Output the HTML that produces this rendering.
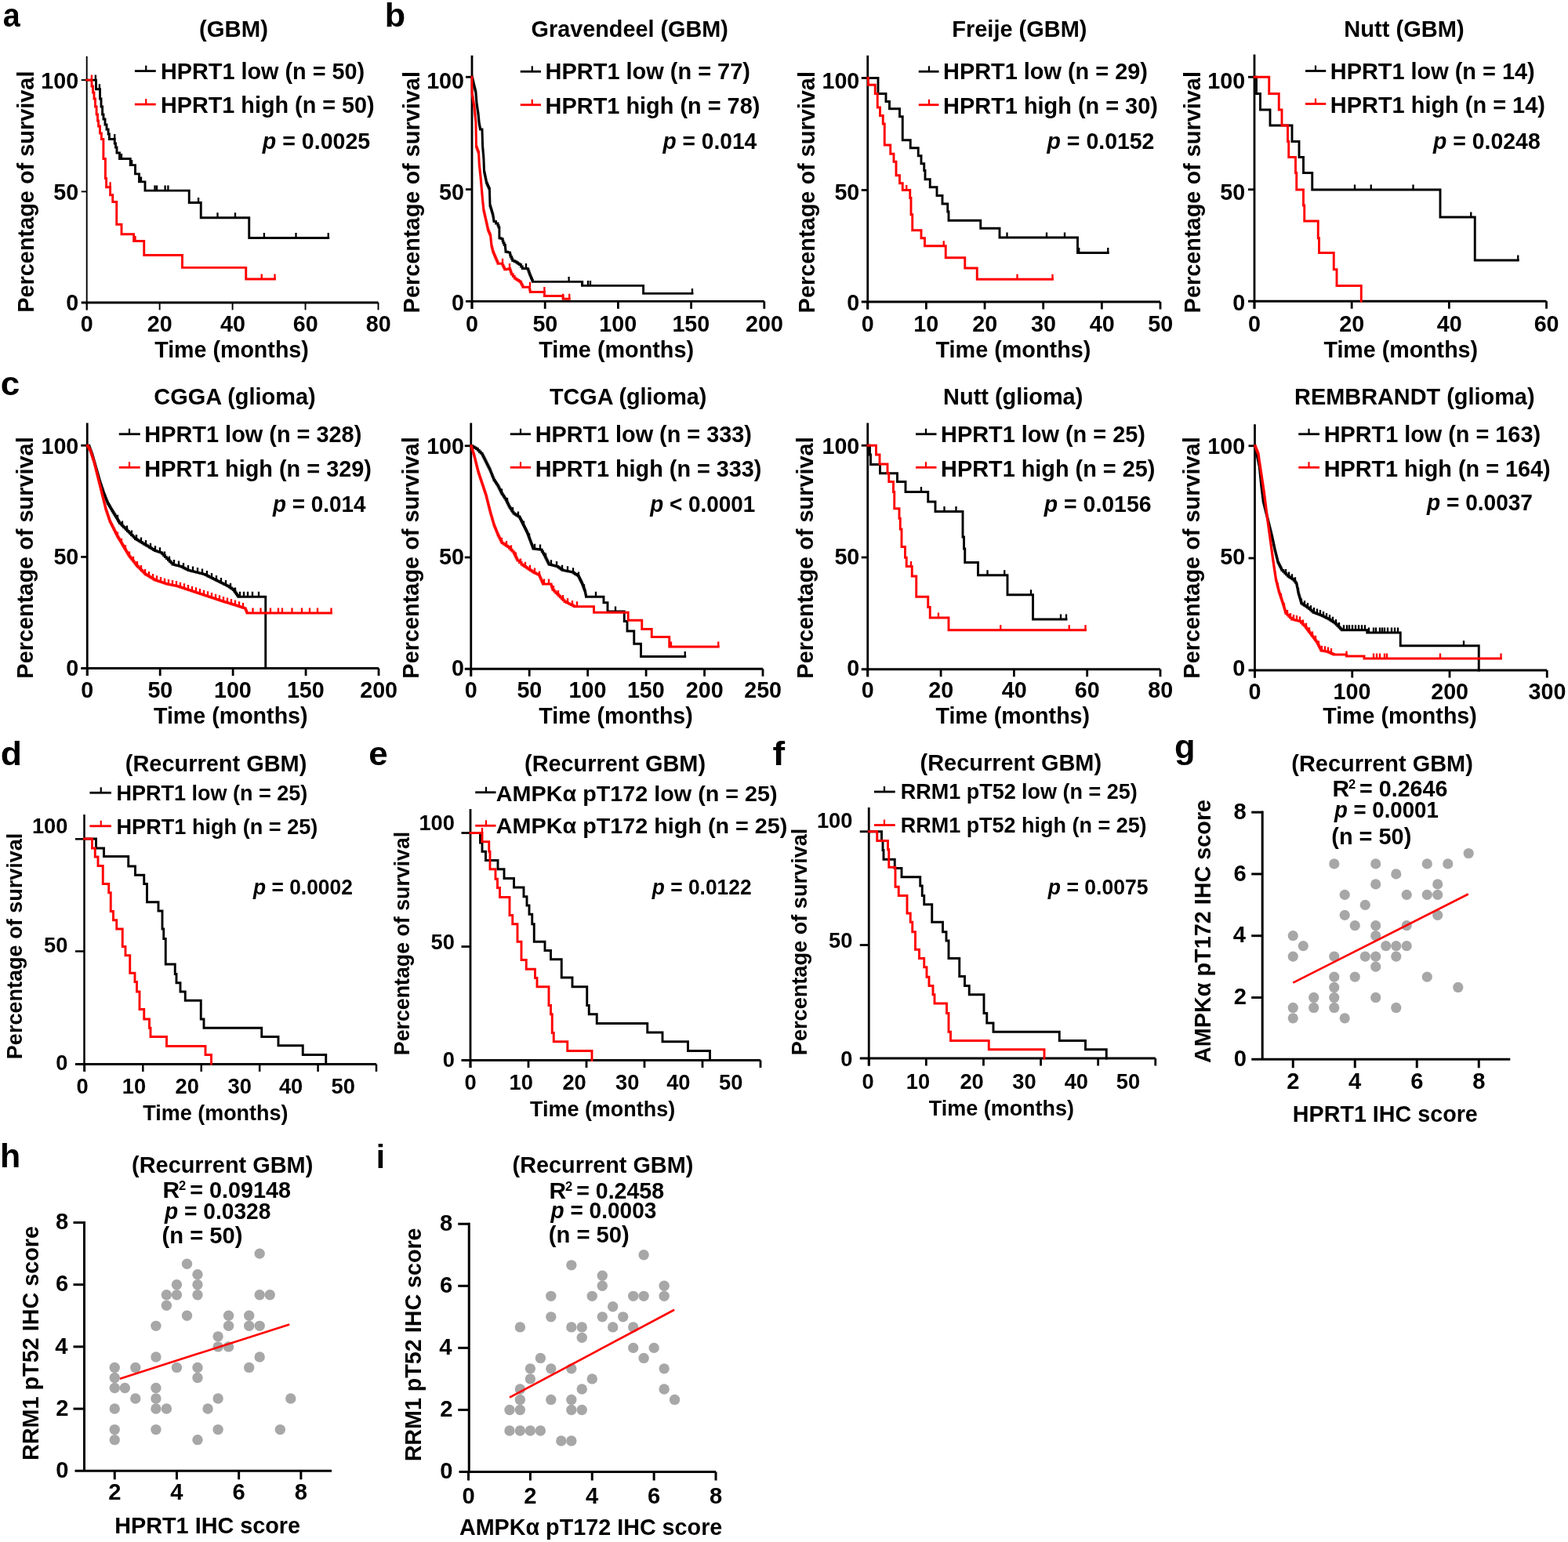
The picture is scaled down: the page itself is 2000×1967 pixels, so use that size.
<!DOCTYPE html>
<html><head><meta charset="utf-8"><title>Figure</title>
<style>
html,body{margin:0;padding:0;background:#fff;}
svg{display:block;}
text{font-family:'Liberation Sans', Arial, Helvetica, sans-serif;font-weight:bold;fill:#000;}
</style></head>
<body>
<svg xmlns="http://www.w3.org/2000/svg" width="2000" height="1967" viewBox="0 0 2000 1967">
<rect width="2000" height="1967" fill="#fff"/>
<text x="3.78" y="33.6" font-size="42.5" textLength="21.94" lengthAdjust="spacingAndGlyphs">a</text>
<line x1="110.7" y1="71.8" x2="110.7" y2="395.4" stroke="#000" stroke-width="1.9"/>
<line x1="103.7" y1="385.9" x2="482.5" y2="385.9" stroke="#000" stroke-width="3"/>
<line x1="103.7" y1="102.1" x2="110.7" y2="102.1" stroke="#000" stroke-width="1.9"/>
<line x1="103.7" y1="244.4" x2="110.7" y2="244.4" stroke="#000" stroke-width="1.9"/>
<line x1="110.7" y1="385.9" x2="110.7" y2="395.4" stroke="#000" stroke-width="1.9"/>
<line x1="203.65" y1="385.9" x2="203.65" y2="395.4" stroke="#000" stroke-width="1.9"/>
<line x1="296.6" y1="385.9" x2="296.6" y2="395.4" stroke="#000" stroke-width="1.9"/>
<line x1="389.55" y1="385.9" x2="389.55" y2="395.4" stroke="#000" stroke-width="1.9"/>
<line x1="482.5" y1="385.9" x2="482.5" y2="395.4" stroke="#000" stroke-width="1.9"/>
<text x="52.36" y="112.9" font-size="28.7">100</text>
<text x="68.29" y="254.6" font-size="28.7">50</text>
<text x="84.22" y="396.2" font-size="28.7">0</text>
<text x="102.74" y="423.2" font-size="28.7">0</text>
<text x="187.79" y="423.2" font-size="28.7">20</text>
<text x="281.03" y="423.2" font-size="28.7">40</text>
<text x="373.69" y="423.2" font-size="28.7">60</text>
<text x="466.72" y="423.2" font-size="28.7">80</text>
<text x="254.03" y="46.8" font-size="30" textLength="87.91" lengthAdjust="spacingAndGlyphs">(GBM)</text>
<text x="197.21" y="455.9" font-size="30" textLength="196.6" lengthAdjust="spacingAndGlyphs">Time (months)</text>
<text x="43.1" y="398.78" font-size="30" textLength="308.2" lengthAdjust="spacingAndGlyphs" transform="rotate(-90 43.1 398.78)">Percentage of survival</text>
<line x1="171.9" y1="90.6" x2="198.75" y2="90.6" stroke="#000" stroke-width="2.8"/>
<line x1="186.25" y1="90.6" x2="186.25" y2="83.6" stroke="#000" stroke-width="2.2"/>
<text x="205.03" y="100.9" font-size="30" textLength="260.15" lengthAdjust="spacingAndGlyphs">HPRT1 low (n = 50)</text>
<line x1="171.9" y1="133.1" x2="198.75" y2="133.1" stroke="#ff0000" stroke-width="2.8"/>
<line x1="186.25" y1="133.1" x2="186.25" y2="126.1" stroke="#ff0000" stroke-width="2.2"/>
<text x="205.03" y="144.4" font-size="30" textLength="272.61" lengthAdjust="spacingAndGlyphs">HPRT1 high (n = 50)</text>
<text x="334.87" y="189.7" font-size="29.5" textLength="137.34" lengthAdjust="spacingAndGlyphs"><tspan font-style="italic">p</tspan> = 0.0025</text>
<path d="M110.7,102.1H122.5V113.8H127.5V126H129V136H130.6V146H132V152H134V159H136V165H138.1V171H139.4V177.5H146.25V183H147.5V188H149V195H152.5V202.5H166.25V210.6H172.5V221.9H177.5V231.9H185V243.1H241.25V258.5H256.25V277.7H317.75V303.5H418.75" fill="none" stroke="#000" stroke-width="2.9" stroke-linejoin="miter" stroke-linecap="square"/>
<path d="M121.9,102.1v-6.5M126.9,113.8v-6.5M146.25,177.5v-6.5M155,202.5v-6.5M168.1,210.6v-6.5M180,231.9v-6.5M197.5,243.1v-6.5M200,243.1v-6.5M210.6,243.1v-6.5M214.4,243.1v-6.5M253.1,258.5v-6.5M277.5,277.7v-6.5M300,277.7v-6.5M336.9,303.5v-6.5M377.5,303.5v-6.5M418.75,303.5v-6.5" fill="none" stroke="#000" stroke-width="2.32"/>
<path d="M110.7,102.1H117V110H118.5V118H120V126H121.5V136H123.1V146H124.5V154H125.6V161H127.5V170H129.4V177.5H131.9V202.5H134.4V227.5H135.6V238.75H140.6V248.75H143.75V257.5H148.75V286.25H155V298.75H170.6V307.5H183.75V325.5H232.5V341.4H313.75V356H350.5" fill="none" stroke="#ff0000" stroke-width="2.9" stroke-linejoin="miter" stroke-linecap="square"/>
<path d="M116.9,102.1v-6.5M140.6,238.75v-6.5M172.5,307.5v-6.5M333.75,356v-6.5M350.5,356v-6.5" fill="none" stroke="#ff0000" stroke-width="2.32"/>
<text x="490.69" y="33.6" font-size="42.5" textLength="26.37" lengthAdjust="spacingAndGlyphs">b</text>
<line x1="602" y1="70.75" x2="602" y2="393.9" stroke="#000" stroke-width="2.8"/>
<line x1="594" y1="384.4" x2="974.8" y2="384.4" stroke="#000" stroke-width="2.9"/>
<line x1="594" y1="98.25" x2="602" y2="98.25" stroke="#000" stroke-width="2.8"/>
<line x1="594" y1="241.6" x2="602" y2="241.6" stroke="#000" stroke-width="2.8"/>
<line x1="602" y1="384.4" x2="602" y2="393.9" stroke="#000" stroke-width="2.8"/>
<line x1="695.2" y1="384.4" x2="695.2" y2="393.9" stroke="#000" stroke-width="2.8"/>
<line x1="788.4" y1="384.4" x2="788.4" y2="393.9" stroke="#000" stroke-width="2.8"/>
<line x1="881.6" y1="384.4" x2="881.6" y2="393.9" stroke="#000" stroke-width="2.8"/>
<line x1="974.8" y1="384.4" x2="974.8" y2="393.9" stroke="#000" stroke-width="2.8"/>
<text x="544.16" y="112.9" font-size="28.7">100</text>
<text x="560.09" y="254.6" font-size="28.7">50</text>
<text x="576.02" y="396.2" font-size="28.7">0</text>
<text x="594.04" y="422.5" font-size="28.7">0</text>
<text x="679.42" y="422.5" font-size="28.7">50</text>
<text x="764.22" y="422.5" font-size="28.7">100</text>
<text x="857.42" y="422.5" font-size="28.7">150</text>
<text x="950.98" y="422.5" font-size="28.7">200</text>
<text x="677.57" y="46.75" font-size="30" textLength="251.32" lengthAdjust="spacingAndGlyphs">Gravendeel (GBM)</text>
<text x="687.19" y="455.9" font-size="30" textLength="197.86" lengthAdjust="spacingAndGlyphs">Time (months)</text>
<text x="535" y="399.38" font-size="30" textLength="308.3" lengthAdjust="spacingAndGlyphs" transform="rotate(-90 535 399.38)">Percentage of survival</text>
<line x1="663.75" y1="91.25" x2="690" y2="91.25" stroke="#000" stroke-width="2.8"/>
<line x1="678.75" y1="91.25" x2="678.75" y2="84.25" stroke="#000" stroke-width="2.2"/>
<text x="695.62" y="101.25" font-size="30" textLength="261.31" lengthAdjust="spacingAndGlyphs">HPRT1 low (n = 77)</text>
<line x1="663.75" y1="133.75" x2="690" y2="133.75" stroke="#ff0000" stroke-width="2.8"/>
<line x1="678.75" y1="133.75" x2="678.75" y2="126.75" stroke="#ff0000" stroke-width="2.2"/>
<text x="695.62" y="144.75" font-size="30" textLength="273.78" lengthAdjust="spacingAndGlyphs">HPRT1 high (n = 78)</text>
<text x="845.56" y="190" font-size="29.5" textLength="119.64" lengthAdjust="spacingAndGlyphs"><tspan font-style="italic">p</tspan> = 0.014</text>
<path d="M602,98.25H602.48V100.35H602.96V102.45H603.44V104.55H603.92V106.65H604.4V108.75H604.9V110.75H605.4V112.75H605.9V114.75H606.4V116.75H606.9V118.75H607.05V120.62H607.2V122.5H607.35V124.38H607.5V126.25H607.65V128.12H607.8V130H607.95V131.88H608.1V133.75H608.42V135.83H608.73V137.92H609.05V140H609.37V142.08H609.68V144.17H610V146.25H610.21V148.33H610.42V150.42H610.62V152.5H610.83V154.58H611.04V156.67H611.25V158.75H611.67V160.83H612.08V162.92H612.5V165H615V167.5H615.06V169.5H615.12V171.5H615.18V173.5H615.24V175.5H615.3V177.5H615.36V179.5H615.42V181.5H615.48V183.5H615.54V185.5H615.6V187.5H615.76V189.38H615.92V191.25H616.09V193.12H616.25V195H616.41V196.88H616.58V198.75H616.74V200.62H616.9V202.5H616.98V204.53H617.05V206.56H617.12V208.59H617.2V210.62H617.27V212.66H617.35V214.69H617.42V216.72H617.5V218.75H617.89V220.62H618.27V222.5H618.66V224.38H619.05V226.25H619.44V228.12H619.83V230H620.21V231.88H620.6V233.75H621.55V235.94H622.5V238.12H623.45V240.31H624.4V242.5H624.46V244.5H624.52V246.5H624.58V248.5H624.64V250.5H624.7V252.5H624.76V254.5H624.82V256.5H624.88V258.5H624.94V260.5H625V262.5H625.62V264.58H626.25V266.67H626.88V268.75H627.5V270.83H628.12V272.92H628.75V275H629.06V276.88H629.38V278.75H629.69V280.62H630V282.5H632.5V285H635V287.5H635.95V290H636.9V292.5H636.9V294.38H636.9V296.25H636.9V298.12H636.9V300H636.9V301.88H636.9V303.75H638.75V304.38H640.6V305H641.25V307.5H641.9V310H643.15V312.5H644.4V315H644.6V317.08H644.8V319.17H645V321.25H647.5V321.88H650V322.5H650.62V325H651.25V327.5H652.5V330H653.75V332.5H656.25V333.75H658.75V335H660.62V336.25H662.5V337.5H664.38V340H666.25V342.5H668.75V342.5H671.25V342.5H673.1V343.75H674.05V346.25H675V348.75H675.83V350.83H676.67V352.92H677.5V355H678.45V357.2H679.4V359.4H742.5V364.4H820.6V374.4H883" fill="none" stroke="#000" stroke-width="2.9" stroke-linejoin="miter" stroke-linecap="square"/>
<path d="M671,342.5v-6.5M725.6,359.4v-6.5M743,364.4v-6.5M750,364.4v-6.5M753,364.4v-6.5M883,374.4v-6.5" fill="none" stroke="#000" stroke-width="2.32"/>
<path d="M602,98.25H602V100.3H602V102.35H602V104.4H602V106.45H602V108.5H602V110.55H602V112.6H602V114.65H602V116.7H602V118.75H602.33V120.83H602.67V122.92H603V125H603.33V127.08H603.67V129.17H604V131.25H604.33V133.33H604.67V135.42H605V137.5H605.21V139.58H605.42V141.67H605.63V143.75H605.84V145.83H606.06V147.92H606.27V150H606.48V152.08H606.69V154.17H606.9V156.25H606.94V158.2H606.98V160.16H607.01V162.11H607.05V164.06H607.09V166.02H607.12V167.97H607.16V169.92H607.2V171.88H607.24V173.83H607.27V175.78H607.31V177.73H607.35V179.69H607.39V181.64H607.42V183.59H607.46V185.55H607.5V187.5H608.27V189.69H609.05V191.88H609.83V194.06H610.6V196.25H610.69V198.21H610.79V200.18H610.88V202.14H610.97V204.11H611.06V206.07H611.16V208.04H611.25V210H611.46V211.94H611.66V213.89H611.87V215.83H612.07V217.78H612.28V219.72H612.48V221.67H612.69V223.61H612.89V225.56H613.1V227.5H613.26V229.38H613.42V231.25H613.59V233.12H613.75V235H613.91V236.88H614.08V238.75H614.24V240.62H614.4V242.5H614.57V244.46H614.74V246.43H614.91V248.39H615.09V250.36H615.26V252.32H615.43V254.29H615.6V256.25H615.82V258.33H616.03V260.42H616.25V262.5H616.47V264.58H616.68V266.67H616.9V268.75H617.36V270.78H617.83V272.81H618.29V274.84H618.75V276.88H619.21V278.91H619.67V280.94H620.14V282.97H620.6V285H621.08V287.19H621.55V289.38H622.02V291.56H622.5V293.75H623.27V295.62H624.05V297.5H624.83V299.38H625.6V301.25H625.82V303.33H626.03V305.42H626.25V307.5H626.47V309.58H626.68V311.67H626.9V313.75H627.36V315.62H627.83V317.5H628.29V319.38H628.75V321.25H629.58V323.33H630.42V325.42H631.25V327.5H632.19V329.69H633.12V331.88H634.06V334.06H635V336.25H637.5V336.25H640V336.25H640.94V338.12H641.88V340H642.81V341.88H643.75V343.75H645.83V343.33H647.92V342.92H650V342.5H650.62V344.38H651.25V346.25H651.88V348.12H652.5V350H654.38V352.5H656.25V355H658.12V356.25H660V357.5H661.88V358.75H663.75V360H664.8V362.08H665.85V364.17H666.9V366.25H668.92V366.25H670.95V366.25H672.98V366.25H675V366.25H675.42V368.33H675.83V370.42H676.25V372.5H694.4V377.5H718.1V381.25H726.25" fill="none" stroke="#ff0000" stroke-width="2.9" stroke-linejoin="miter" stroke-linecap="square"/>
<path d="M641,336.25v-6.5M650,342.5v-6.5M676,366.25v-6.5M694.4,372.5v-6.5M718.1,381.25v-6.5M726.25,381.25v-6.5" fill="none" stroke="#ff0000" stroke-width="2.32"/>
<line x1="1106.75" y1="70.75" x2="1106.75" y2="394.5" stroke="#000" stroke-width="2.8"/>
<line x1="1098.75" y1="385" x2="1480" y2="385" stroke="#000" stroke-width="2.9"/>
<line x1="1098.75" y1="99.5" x2="1106.75" y2="99.5" stroke="#000" stroke-width="2.8"/>
<line x1="1098.75" y1="242.5" x2="1106.75" y2="242.5" stroke="#000" stroke-width="2.8"/>
<line x1="1106.75" y1="385" x2="1106.75" y2="394.5" stroke="#000" stroke-width="2.8"/>
<line x1="1181.4" y1="385" x2="1181.4" y2="394.5" stroke="#000" stroke-width="2.8"/>
<line x1="1256.05" y1="385" x2="1256.05" y2="394.5" stroke="#000" stroke-width="2.8"/>
<line x1="1330.7" y1="385" x2="1330.7" y2="394.5" stroke="#000" stroke-width="2.8"/>
<line x1="1405.35" y1="385" x2="1405.35" y2="394.5" stroke="#000" stroke-width="2.8"/>
<line x1="1480" y1="385" x2="1480" y2="394.5" stroke="#000" stroke-width="2.8"/>
<text x="1048.46" y="112.9" font-size="28.7">100</text>
<text x="1064.39" y="254.6" font-size="28.7">50</text>
<text x="1080.32" y="396.2" font-size="28.7">0</text>
<text x="1098.79" y="422.5" font-size="28.7">0</text>
<text x="1165.18" y="422.5" font-size="28.7">10</text>
<text x="1240.19" y="422.5" font-size="28.7">20</text>
<text x="1314.99" y="422.5" font-size="28.7">30</text>
<text x="1389.78" y="422.5" font-size="28.7">40</text>
<text x="1464.21" y="422.5" font-size="28.7">50</text>
<text x="1214.34" y="46.75" font-size="30" textLength="172.08" lengthAdjust="spacingAndGlyphs">Freije (GBM)</text>
<text x="1193.49" y="455.9" font-size="30" textLength="197.86" lengthAdjust="spacingAndGlyphs">Time (months)</text>
<text x="1038.75" y="399.38" font-size="30" textLength="308.3" lengthAdjust="spacingAndGlyphs" transform="rotate(-90 1038.75 399.38)">Percentage of survival</text>
<line x1="1171.75" y1="91.25" x2="1197.5" y2="91.25" stroke="#000" stroke-width="2.8"/>
<line x1="1185" y1="91.25" x2="1185" y2="84.25" stroke="#000" stroke-width="2.2"/>
<text x="1203.12" y="101.25" font-size="30" textLength="260.81" lengthAdjust="spacingAndGlyphs">HPRT1 low (n = 29)</text>
<line x1="1171.75" y1="133.75" x2="1197.5" y2="133.75" stroke="#ff0000" stroke-width="2.8"/>
<line x1="1185" y1="133.75" x2="1185" y2="126.75" stroke="#ff0000" stroke-width="2.2"/>
<text x="1203.12" y="144.75" font-size="30" textLength="273.78" lengthAdjust="spacingAndGlyphs">HPRT1 high (n = 30)</text>
<text x="1335.57" y="190" font-size="29.5" textLength="136.91" lengthAdjust="spacingAndGlyphs"><tspan font-style="italic">p</tspan> = 0.0152</text>
<path d="M1106.75,99.5H1120V119.5H1130V129.5H1134.5V138.75H1147.5V148.75H1151.25V178.75H1161.25V188.75H1171.25V198.75H1175V208.75H1178.75V217.5H1180V228.75H1186.25V238.75H1195V249.5H1202V260H1208.75V270H1210V281.25H1250.75V291.25H1275V303H1374.5V322.5H1413.25" fill="none" stroke="#000" stroke-width="2.9" stroke-linejoin="miter" stroke-linecap="square"/>
<path d="M1284.5,303v-6.5M1335,303v-6.5M1358,303v-6.5M1376.25,322.5v-6.5M1413.25,322.5v-6.5" fill="none" stroke="#000" stroke-width="2.32"/>
<path d="M1106.75,99.5H1107.5V108.25H1116.25V119.5H1119.25V137H1122.5V147.5H1126.25V158H1128.25V185H1135.75V196.25H1140V206.25H1143V223.75H1147.5V233.75H1151.25V242.5H1160.75V252.5H1162V273.75H1163.75V293.75H1175V303.75H1179.5V313.75H1206.25V328.75H1230.75V342H1246.25V356.25H1342.5" fill="none" stroke="#ff0000" stroke-width="2.9" stroke-linejoin="miter" stroke-linecap="square"/>
<path d="M1156.25,242.5v-6.5M1203.75,313.75v-6.5M1297.5,356.25v-6.5M1342.5,356.25v-6.5" fill="none" stroke="#ff0000" stroke-width="2.32"/>
<line x1="1600" y1="69.5" x2="1600" y2="393.75" stroke="#000" stroke-width="2.8"/>
<line x1="1592" y1="384.25" x2="1972.5" y2="384.25" stroke="#000" stroke-width="2.9"/>
<line x1="1592" y1="98.25" x2="1600" y2="98.25" stroke="#000" stroke-width="2.8"/>
<line x1="1592" y1="241.75" x2="1600" y2="241.75" stroke="#000" stroke-width="2.8"/>
<line x1="1600" y1="384.25" x2="1600" y2="393.75" stroke="#000" stroke-width="2.8"/>
<line x1="1724.17" y1="384.25" x2="1724.17" y2="393.75" stroke="#000" stroke-width="2.8"/>
<line x1="1848.34" y1="384.25" x2="1848.34" y2="393.75" stroke="#000" stroke-width="2.8"/>
<line x1="1972.51" y1="384.25" x2="1972.51" y2="393.75" stroke="#000" stroke-width="2.8"/>
<text x="1540.36" y="112.9" font-size="28.7">100</text>
<text x="1556.29" y="254.6" font-size="28.7">50</text>
<text x="1572.22" y="396.2" font-size="28.7">0</text>
<text x="1592.04" y="422.5" font-size="28.7">0</text>
<text x="1708.31" y="422.5" font-size="28.7">20</text>
<text x="1832.77" y="422.5" font-size="28.7">40</text>
<text x="1956.65" y="422.5" font-size="28.7">60</text>
<text x="1714.36" y="47" font-size="30" textLength="153.23" lengthAdjust="spacingAndGlyphs">Nutt (GBM)</text>
<text x="1688.46" y="455.9" font-size="30" textLength="196.6" lengthAdjust="spacingAndGlyphs">Time (months)</text>
<text x="1531.25" y="399.38" font-size="30" textLength="308.3" lengthAdjust="spacingAndGlyphs" transform="rotate(-90 1531.25 399.38)">Percentage of survival</text>
<line x1="1665" y1="90.5" x2="1691.25" y2="90.5" stroke="#000" stroke-width="2.8"/>
<line x1="1678" y1="90.5" x2="1678" y2="83.5" stroke="#000" stroke-width="2.2"/>
<text x="1696.87" y="100.5" font-size="30" textLength="260.81" lengthAdjust="spacingAndGlyphs">HPRT1 low (n = 14)</text>
<line x1="1665" y1="132.5" x2="1691.25" y2="132.5" stroke="#ff0000" stroke-width="2.8"/>
<line x1="1678" y1="132.5" x2="1678" y2="125.5" stroke="#ff0000" stroke-width="2.2"/>
<text x="1696.87" y="144" font-size="30" textLength="274.03" lengthAdjust="spacingAndGlyphs">HPRT1 high (n = 14)</text>
<text x="1828.07" y="189.5" font-size="29.5" textLength="136.63" lengthAdjust="spacingAndGlyphs"><tspan font-style="italic">p</tspan> = 0.0248</text>
<path d="M1600,98.25H1602.5V119.5H1607.5V140H1620V160H1648V180.5H1657V200.5H1662.5V220.5H1673.75V242H1837V277H1881.25V332H1936.25" fill="none" stroke="#000" stroke-width="2.9" stroke-linejoin="miter" stroke-linecap="square"/>
<path d="M1728,242v-6.5M1748.75,242v-6.5M1802.5,242v-6.5M1876.25,277v-6.5M1936.25,332v-6.5" fill="none" stroke="#000" stroke-width="2.32"/>
<path d="M1600,98.25H1618.75V119.5H1631.25V140H1635V160H1642.5V180.5H1643.75V200.5H1652.5V220.5H1653.75V242H1662.5V262H1663.75V282H1681.25V303.75H1682.5V322.5H1701.25V343.75H1705V364.5H1736.25V384.25" fill="none" stroke="#ff0000" stroke-width="2.9" stroke-linejoin="miter" stroke-linecap="square"/>
<text x="0.74" y="503.6" font-size="42.5" textLength="24.54" lengthAdjust="spacingAndGlyphs">c</text>
<line x1="111.25" y1="539.5" x2="111.25" y2="862" stroke="#000" stroke-width="2.8"/>
<line x1="103.25" y1="852.5" x2="483" y2="852.5" stroke="#000" stroke-width="2.9"/>
<line x1="103.25" y1="568.25" x2="111.25" y2="568.25" stroke="#000" stroke-width="2.8"/>
<line x1="103.25" y1="710.4" x2="111.25" y2="710.4" stroke="#000" stroke-width="2.8"/>
<line x1="111.25" y1="852.5" x2="111.25" y2="862" stroke="#000" stroke-width="2.8"/>
<line x1="204.19" y1="852.5" x2="204.19" y2="862" stroke="#000" stroke-width="2.8"/>
<line x1="297.13" y1="852.5" x2="297.13" y2="862" stroke="#000" stroke-width="2.8"/>
<line x1="390.07" y1="852.5" x2="390.07" y2="862" stroke="#000" stroke-width="2.8"/>
<line x1="483.01" y1="852.5" x2="483.01" y2="862" stroke="#000" stroke-width="2.8"/>
<text x="52.46" y="578.6" font-size="28.7">100</text>
<text x="68.39" y="720.3" font-size="28.7">50</text>
<text x="84.32" y="861.9" font-size="28.7">0</text>
<text x="103.29" y="889.5" font-size="28.7">0</text>
<text x="188.41" y="889.5" font-size="28.7">50</text>
<text x="272.95" y="889.5" font-size="28.7">100</text>
<text x="365.89" y="889.5" font-size="28.7">150</text>
<text x="459.19" y="889.5" font-size="28.7">200</text>
<text x="196.37" y="515.5" font-size="30" textLength="206.34" lengthAdjust="spacingAndGlyphs">CGGA (glioma)</text>
<text x="195.96" y="923.4" font-size="30" textLength="196.6" lengthAdjust="spacingAndGlyphs">Time (months)</text>
<text x="42.5" y="865.63" font-size="30" textLength="308.3" lengthAdjust="spacingAndGlyphs" transform="rotate(-90 42.5 865.63)">Percentage of survival</text>
<line x1="151.75" y1="553.75" x2="178.75" y2="553.75" stroke="#000" stroke-width="2.8"/>
<line x1="165" y1="553.75" x2="165" y2="546.75" stroke="#000" stroke-width="2.2"/>
<text x="184.37" y="564" font-size="30" textLength="276.95" lengthAdjust="spacingAndGlyphs">HPRT1 low (n = 328)</text>
<line x1="151.75" y1="596.25" x2="178.75" y2="596.25" stroke="#ff0000" stroke-width="2.8"/>
<line x1="165" y1="596.25" x2="165" y2="589.25" stroke="#ff0000" stroke-width="2.2"/>
<text x="184.37" y="607.5" font-size="30" textLength="289.56" lengthAdjust="spacingAndGlyphs">HPRT1 high (n = 329)</text>
<text x="348.06" y="652.5" font-size="29.5" textLength="118.39" lengthAdjust="spacingAndGlyphs"><tspan font-style="italic">p</tspan> = 0.014</text>
<path d="M111.25,568.25H113.75V570H114.38V571.67H115V573.33H115.62V575H116.25V576.67H116.88V578.33H117.5V580H118V581.75H118.5V583.5H119V585.25H119.5V587H120V588.75H120.5V590.5H121V592.25H121.5V594H122V595.75H122.5V597.5H123V599.25H123.5V601H124V602.75H124.5V604.5H125V606.25H125.5V608H126V609.75H126.5V611.5H127V613.25H127.5V615H128.12V616.88H128.75V618.75H129.38V620.62H130V622.5H130.62V624.38H131.25V626.25H131.88V628.12H132.5V630H133.21V631.79H133.93V633.57H134.64V635.36H135.36V637.14H136.07V638.93H136.79V640.71H137.5V642.5H138.57V644.29H139.64V646.07H140.71V647.86H141.79V649.64H142.86V651.43H143.93V653.21H145V655H146.07V656.79H147.14V658.57H148.21V660.36H149.29V662.14H150.36V663.93H151.43V665.71H152.5V667.5H154.17V669.17H155.83V670.83H157.5V672.5H159.17V674.17H160.83V675.83H162.5V677.5H164.17V679.17H165.83V680.83H167.5V682.5H169.17V684.17H170.83V685.83H172.5V687.5H174.29V688.57H176.07V689.64H177.86V690.71H179.64V691.79H181.43V692.86H183.21V693.93H185V695H186.79V696.07H188.57V697.14H190.36V698.21H192.14V699.29H193.93V700.36H195.71V701.43H197.5V702.5H199.38V703.12H201.25V703.75H203.12V704.38H205V705H206.88V706.88H208.75V708.75H210.62V710.62H212.5V712.5H214.38V714.38H216.25V716.25H218.12V718.12H220V720H221.67V720.42H223.33V720.83H225V721.25H226.67V721.67H228.33V722.08H230V722.5H231.67V723.33H233.33V724.17H235V725H236.67V725.83H238.33V726.67H240V727.5H241.67V727.92H243.33V728.33H245V728.75H246.67V729.17H248.33V729.58H250V730H251.67V730.42H253.33V730.83H255V731.25H256.67V731.67H258.33V732.08H260V732.5H261.67V733.33H263.33V734.17H265V735H266.67V735.83H268.33V736.67H270V737.5H271.67V738.33H273.33V739.17H275V740H276.67V740.83H278.33V741.67H280V742.5H281.67V743.33H283.33V744.17H285V745H286.67V745.83H288.33V746.67H290V747.5H291.88V748.75H293.75V750H295.62V751.25H297.5V752.5H298.75V754.25H300V756H301.25V757.75H302.5V759.5H303.75V761.25H338.75V852.5" fill="none" stroke="#000" stroke-width="2.9" stroke-linejoin="miter" stroke-linecap="square"/>
<path d="M150,663.33v-6.5M156,671v-6.5M162,677v-6.5M168,683v-6.5M174,688.4v-6.5M180,692v-6.5M186,695.6v-6.5M192,699.2v-6.5M198,702.67v-6.5M204,704.67v-6.5M210,710v-6.5M216,716v-6.5M222,720.5v-6.5M228,722v-6.5M234,724.5v-6.5M240,727.5v-6.5M246,729v-6.5M252,730.5v-6.5M258,732v-6.5M264,734.5v-6.5M270,737.5v-6.5M276,740.5v-6.5M282,743.5v-6.5M288,746.5v-6.5M294,750.17v-6.5M300,756v-6.5M306,761.25v-6.5M311,761.25v-6.5M316,761.25v-6.5M322,761.25v-6.5M330,761.25v-6.5" fill="none" stroke="#000" stroke-width="2.32"/>
<path d="M111.25,568.25H112.19V569.94H113.12V571.62H114.06V573.31H115V575H115.62V576.88H116.25V578.75H116.88V580.62H117.5V582.5H118.12V584.38H118.75V586.25H119.38V588.12H120V590H120.45V591.82H120.91V593.64H121.36V595.45H121.82V597.27H122.27V599.09H122.73V600.91H123.18V602.73H123.64V604.55H124.09V606.36H124.55V608.18H125V610H125.45V611.82H125.91V613.64H126.36V615.45H126.82V617.27H127.27V619.09H127.73V620.91H128.18V622.73H128.64V624.55H129.09V626.36H129.55V628.18H130V630H130.45V631.82H130.91V633.64H131.36V635.45H131.82V637.27H132.27V639.09H132.73V640.91H133.18V642.73H133.64V644.55H134.09V646.36H134.55V648.18H135V650H135.62V651.88H136.25V653.75H136.88V655.62H137.5V657.5H138.12V659.38H138.75V661.25H139.38V663.12H140V665H140.83V666.67H141.67V668.33H142.5V670H143.33V671.67H144.17V673.33H145V675H145.83V676.67H146.67V678.33H147.5V680H148.33V681.67H149.17V683.33H150V685H151.07V686.79H152.14V688.57H153.21V690.36H154.29V692.14H155.36V693.93H156.43V695.71H157.5V697.5H158.57V699.29H159.64V701.07H160.71V702.86H161.79V704.64H162.86V706.43H163.93V708.21H165V710H166.43V711.79H167.86V713.57H169.29V715.36H170.71V717.14H172.14V718.93H173.57V720.71H175V722.5H176.67V724.17H178.33V725.83H180V727.5H181.67V729.17H183.33V730.83H185V732.5H186.79V733.57H188.57V734.64H190.36V735.71H192.14V736.79H193.93V737.86H195.71V738.93H197.5V740H199.38V740.62H201.25V741.25H203.12V741.88H205V742.5H206.88V743.12H208.75V743.75H210.62V744.38H212.5V745H214.29V745.36H216.07V745.71H217.86V746.07H219.64V746.43H221.43V746.79H223.21V747.14H225V747.5H226.88V748.12H228.75V748.75H230.62V749.38H232.5V750H234.38V750.62H236.25V751.25H238.12V751.88H240V752.5H241.88V753.12H243.75V753.75H245.62V754.38H247.5V755H249.38V755.62H251.25V756.25H253.12V756.88H255V757.5H256.88V758.12H258.75V758.75H260.62V759.38H262.5V760H264.38V760.62H266.25V761.25H268.12V761.88H270V762.5H271.88V763.12H273.75V763.75H275.62V764.38H277.5V765H279.38V765.62H281.25V766.25H283.12V766.88H285V767.5H286.79V768.04H288.57V768.57H290.36V769.11H292.14V769.64H293.93V770.18H295.71V770.71H297.5V771.25H299.38V771.88H301.25V772.5H303.12V773.12H305V773.75H306.88V774.38H308.75V775H310.62V775.62H312.5V776.25H313.33V778.17H314.17V780.08H315V782H422.5" fill="none" stroke="#ff0000" stroke-width="2.9" stroke-linejoin="miter" stroke-linecap="square"/>
<path d="M150,685v-6.5M155,693.33v-6.5M160,701.67v-6.5M165,710v-6.5M170,716.25v-6.5M175,722.5v-6.5M180,727.5v-6.5M185,732.5v-6.5M190,735.5v-6.5M195,738.5v-6.5M200,740.83v-6.5M205,742.5v-6.5M210,744.17v-6.5M215,745.5v-6.5M220,746.5v-6.5M225,747.5v-6.5M230,749.17v-6.5M235,750.83v-6.5M240,752.5v-6.5M245,754.17v-6.5M250,755.83v-6.5M255,757.5v-6.5M260,759.17v-6.5M265,760.83v-6.5M270,762.5v-6.5M275,764.17v-6.5M280,765.83v-6.5M285,767.5v-6.5M290,769v-6.5M295,770.5v-6.5M300,772.08v-6.5M305,773.75v-6.5M310,775.42v-6.5M322.5,782v-6.5M332.5,782v-6.5M345,782v-6.5M355,782v-6.5M360,782v-6.5M372.5,782v-6.5M385,782v-6.5M395,782v-6.5M405,782v-6.5M422.5,782v-6.5" fill="none" stroke="#ff0000" stroke-width="2.32"/>
<line x1="600.75" y1="539.5" x2="600.75" y2="862.75" stroke="#000" stroke-width="2.8"/>
<line x1="592.75" y1="853.25" x2="973" y2="853.25" stroke="#000" stroke-width="2.9"/>
<line x1="592.75" y1="568.75" x2="600.75" y2="568.75" stroke="#000" stroke-width="2.8"/>
<line x1="592.75" y1="711" x2="600.75" y2="711" stroke="#000" stroke-width="2.8"/>
<line x1="600.75" y1="853.25" x2="600.75" y2="862.75" stroke="#000" stroke-width="2.8"/>
<line x1="675.2" y1="853.25" x2="675.2" y2="862.75" stroke="#000" stroke-width="2.8"/>
<line x1="749.65" y1="853.25" x2="749.65" y2="862.75" stroke="#000" stroke-width="2.8"/>
<line x1="824.1" y1="853.25" x2="824.1" y2="862.75" stroke="#000" stroke-width="2.8"/>
<line x1="898.55" y1="853.25" x2="898.55" y2="862.75" stroke="#000" stroke-width="2.8"/>
<line x1="973" y1="853.25" x2="973" y2="862.75" stroke="#000" stroke-width="2.8"/>
<text x="544.16" y="578.6" font-size="28.7">100</text>
<text x="560.09" y="720.3" font-size="28.7">50</text>
<text x="576.02" y="861.9" font-size="28.7">0</text>
<text x="592.79" y="890" font-size="28.7">0</text>
<text x="659.42" y="890" font-size="28.7">50</text>
<text x="725.47" y="890" font-size="28.7">100</text>
<text x="799.92" y="890" font-size="28.7">150</text>
<text x="874.73" y="890" font-size="28.7">200</text>
<text x="949.18" y="890" font-size="28.7">250</text>
<text x="700.94" y="515.5" font-size="30" textLength="200.41" lengthAdjust="spacingAndGlyphs">TCGA (glioma)</text>
<text x="687.21" y="923.4" font-size="30" textLength="196.6" lengthAdjust="spacingAndGlyphs">Time (months)</text>
<text x="534.5" y="865.63" font-size="30" textLength="308.3" lengthAdjust="spacingAndGlyphs" transform="rotate(-90 534.5 865.63)">Percentage of survival</text>
<line x1="650.75" y1="553.75" x2="677" y2="553.75" stroke="#000" stroke-width="2.8"/>
<line x1="664" y1="553.75" x2="664" y2="546.75" stroke="#000" stroke-width="2.2"/>
<text x="682.63" y="564" font-size="30" textLength="276.19" lengthAdjust="spacingAndGlyphs">HPRT1 low (n = 333)</text>
<line x1="650.75" y1="596.25" x2="677" y2="596.25" stroke="#ff0000" stroke-width="2.8"/>
<line x1="664" y1="596.25" x2="664" y2="589.25" stroke="#ff0000" stroke-width="2.2"/>
<text x="682.63" y="607.5" font-size="30" textLength="288.8" lengthAdjust="spacingAndGlyphs">HPRT1 high (n = 333)</text>
<text x="829.31" y="652.5" font-size="29.5" textLength="133.98" lengthAdjust="spacingAndGlyphs"><tspan font-style="italic">p</tspan> < 0.0001</text>
<path d="M600.75,568.75H603V570H605.25V571.25H607.5V572.5H609.38V574.38H611.25V576.25H613.12V578.12H615V580H616V582H617V584H618V586H619V588H620V590H621V592H622V594H623V596H624V598H625V600H625.83V602.08H626.67V604.17H627.5V606.25H628.33V608.33H629.17V610.42H630V612.5H631.25V614.38H632.5V616.25H633.75V618.12H635V620H636V622H637V624H638V626H639V628H640V630H641.25V631.88H642.5V633.75H643.75V635.62H645V637.5H646V639.5H647V641.5H648V643.5H649V645.5H650V647.5H651.25V649.38H652.5V651.25H653.75V653.12H655V655H656.88V656.25H658.75V657.5H660.62V658.75H662.5V660H663.5V662H664.5V664H665.5V666H666.5V668H667.5V670H668.5V672H669.5V674H670.5V676H671.5V678H672.5V680H673.25V682H674V684H674.75V686H675.5V688H676.25V690H677V692H677.75V694H678.5V696H679.25V698H680V700H682V700.25H684V700.5H686V700.75H688V701H690V701.25H691.25V703.44H692.5V705.62H693.75V707.81H695V710H696V712H697V714H698V716H699V718H700V720H702V720.5H704V721H706V721.5H708V722H710V722.5H711.88V723.75H713.75V725H715.62V726.25H717.5V727.5H719.58V727.92H721.67V728.33H723.75V728.75H725.83V729.17H727.92V729.58H730V730H731.88V731.25H733.75V732.5H735.62V733.75H737.5V735H738.5V737H739.5V739H740.5V741H741.5V743H742.5V745H743.25V747H744V749H744.75V751H745.5V753H746.25V755H746.67V757.08H747.08V759.17H747.5V761.25H770V768.75H775V780H796.25V792.5H800V805H808.75V821.25H817.5V837.5H873.75" fill="none" stroke="#000" stroke-width="2.9" stroke-linejoin="miter" stroke-linecap="square"/>
<path d="M640,630v-6.5M647,641.5v-6.5M654,653.5v-6.5M661,659v-6.5M668,671v-6.5M675,686.67v-6.5M682,700.25v-6.5M689,701.12v-6.5M696,712v-6.5M703,720.75v-6.5M710,722.5v-6.5M717,727.17v-6.5M724,728.8v-6.5M731,730.67v-6.5M738,736v-6.5M745,751.67v-6.5M760,761.25v-6.5M785,780v-6.5M873.75,837.5v-6.5" fill="none" stroke="#000" stroke-width="2.32"/>
<path d="M600.75,568.75H601.36V570.71H601.96V572.68H602.57V574.64H603.18V576.61H603.79V578.57H604.39V580.54H605V582.5H605.5V584.5H606V586.5H606.5V588.5H607V590.5H607.5V592.5H608V594.5H608.5V596.5H609V598.5H609.5V600.5H610V602.5H610.62V604.38H611.25V606.25H611.88V608.12H612.5V610H613.12V611.88H613.75V613.75H614.38V615.62H615V617.5H615.62V619.38H616.25V621.25H616.88V623.12H617.5V625H618.12V626.88H618.75V628.75H619.38V630.62H620V632.5H620.5V634.5H621V636.5H621.5V638.5H622V640.5H622.5V642.5H623V644.5H623.5V646.5H624V648.5H624.5V650.5H625V652.5H625.56V654.44H626.11V656.39H626.67V658.33H627.22V660.28H627.78V662.22H628.33V664.17H628.89V666.11H629.44V668.06H630V670H630.83V672.08H631.67V674.17H632.5V676.25H633.33V678.33H634.17V680.42H635V682.5H636V684.5H637V686.5H638V688.5H639V690.5H640V692.5H641.88V693.75H643.75V695H645.62V696.25H647.5V697.5H649.38V699.38H651.25V701.25H653.12V703.12H655V705H656V707H657V709H658V711H659V713H660V715H662.5V717.5H665V720H666.88V721.25H668.75V722.5H670.62V723.75H672.5V725H674.38V726.25H676.25V727.5H678.12V728.75H680V730H681.88V730.94H683.75V731.88H685.62V732.81H687.5V733.75H688.33V735.62H689.17V737.5H690V739.38H690.83V741.25H691.67V743.12H692.5V745H694.5V745H696.5V745H698.5V745H700.5V745H702.5V745H703.12V746.88H703.75V748.75H704.38V750.62H705V752.5H706.88V754.38H708.75V756.25H710.62V758.12H712.5V760H714.38V761.88H716.25V763.75H718.12V765.62H720V767.5H722.08V768.54H724.17V769.58H726.25V770.62H728.33V771.67H730.42V772.71H732.5V773.75H757.5V781.25H801.25V791.25H818.75V802.5H831.25V812.5H853.75V825H916.25" fill="none" stroke="#ff0000" stroke-width="2.9" stroke-linejoin="miter" stroke-linecap="square"/>
<path d="M640,692.5v-6.5M646,696.5v-6.5M652,702v-6.5M658,711v-6.5M664,719v-6.5M670,723.33v-6.5M676,727.33v-6.5M682,731v-6.5M688,734.88v-6.5M694,745v-6.5M700,745v-6.5M706,753.5v-6.5M712,759.5v-6.5M718,765.5v-6.5M724,769.5v-6.5M730,772.5v-6.5M736,773.75v-6.5M856,825v-6.5M916.25,825v-6.5" fill="none" stroke="#ff0000" stroke-width="2.32"/>
<line x1="1106.75" y1="539.5" x2="1106.75" y2="863.25" stroke="#000" stroke-width="2.8"/>
<line x1="1098.75" y1="853.75" x2="1480" y2="853.75" stroke="#000" stroke-width="2.9"/>
<line x1="1098.75" y1="568.25" x2="1106.75" y2="568.25" stroke="#000" stroke-width="2.8"/>
<line x1="1098.75" y1="711" x2="1106.75" y2="711" stroke="#000" stroke-width="2.8"/>
<line x1="1106.75" y1="853.75" x2="1106.75" y2="863.25" stroke="#000" stroke-width="2.8"/>
<line x1="1200.06" y1="853.75" x2="1200.06" y2="863.25" stroke="#000" stroke-width="2.8"/>
<line x1="1293.37" y1="853.75" x2="1293.37" y2="863.25" stroke="#000" stroke-width="2.8"/>
<line x1="1386.68" y1="853.75" x2="1386.68" y2="863.25" stroke="#000" stroke-width="2.8"/>
<line x1="1479.99" y1="853.75" x2="1479.99" y2="863.25" stroke="#000" stroke-width="2.8"/>
<text x="1048.46" y="578.6" font-size="28.7">100</text>
<text x="1064.39" y="720.3" font-size="28.7">50</text>
<text x="1080.32" y="861.9" font-size="28.7">0</text>
<text x="1098.79" y="890" font-size="28.7">0</text>
<text x="1184.2" y="890" font-size="28.7">20</text>
<text x="1277.8" y="890" font-size="28.7">40</text>
<text x="1370.82" y="890" font-size="28.7">60</text>
<text x="1464.2" y="890" font-size="28.7">80</text>
<text x="1203.12" y="515.5" font-size="30" textLength="178.2" lengthAdjust="spacingAndGlyphs">Nutt (glioma)</text>
<text x="1193.46" y="923.4" font-size="30" textLength="196.6" lengthAdjust="spacingAndGlyphs">Time (months)</text>
<text x="1037.5" y="865.63" font-size="30" textLength="308.3" lengthAdjust="spacingAndGlyphs" transform="rotate(-90 1037.5 865.63)">Percentage of survival</text>
<line x1="1168" y1="553.75" x2="1194.5" y2="553.75" stroke="#000" stroke-width="2.8"/>
<line x1="1181" y1="553.75" x2="1181" y2="546.75" stroke="#000" stroke-width="2.2"/>
<text x="1200.12" y="564" font-size="30" textLength="260.81" lengthAdjust="spacingAndGlyphs">HPRT1 low (n = 25)</text>
<line x1="1168" y1="596.25" x2="1194.5" y2="596.25" stroke="#ff0000" stroke-width="2.8"/>
<line x1="1181" y1="596.25" x2="1181" y2="589.25" stroke="#ff0000" stroke-width="2.2"/>
<text x="1200.12" y="607.5" font-size="30" textLength="273.27" lengthAdjust="spacingAndGlyphs">HPRT1 high (n = 25)</text>
<text x="1331.82" y="652.5" font-size="29.5" textLength="136.77" lengthAdjust="spacingAndGlyphs"><tspan font-style="italic">p</tspan> = 0.0156</text>
<path d="M1106.75,568.25H1109.5V580H1110.5V592.5H1122.5V603.75H1144.5V614.5H1155V627.5H1183.75V640H1193V652.5H1228V685H1229.5V700H1230.75V717.5H1247.5V733.75H1285V758.75H1317.5V790H1360" fill="none" stroke="#000" stroke-width="2.9" stroke-linejoin="miter" stroke-linecap="square"/>
<path d="M1175,627.5v-6.5M1204.5,652.5v-6.5M1219.5,652.5v-6.5M1259.5,733.75v-6.5M1281.25,733.75v-6.5M1315,758.75v-6.5M1353,790v-6.5M1360,790v-6.5" fill="none" stroke="#000" stroke-width="2.32"/>
<path d="M1106.75,568.25H1117.5V580H1122V592H1132V603.75H1133.75V614.5H1139.5V627.5H1140.75V648.75H1147V661.25H1148.25V675H1150V697.5H1154.5V711.25H1156.25V722.5H1163.25V735H1168.75V761.25H1183.75V774.5H1186.25V788H1210V803.75H1384.5" fill="none" stroke="#ff0000" stroke-width="2.9" stroke-linejoin="miter" stroke-linecap="square"/>
<path d="M1162,722.5v-6.5M1197,788v-6.5M1276.25,803.75v-6.5M1363.75,803.75v-6.5M1384.5,803.75v-6.5" fill="none" stroke="#ff0000" stroke-width="2.32"/>
<line x1="1600.5" y1="541.25" x2="1600.5" y2="864.5" stroke="#000" stroke-width="2.8"/>
<line x1="1592.5" y1="855" x2="1973.25" y2="855" stroke="#000" stroke-width="2.9"/>
<line x1="1592.5" y1="568.75" x2="1600.5" y2="568.75" stroke="#000" stroke-width="2.8"/>
<line x1="1592.5" y1="712" x2="1600.5" y2="712" stroke="#000" stroke-width="2.8"/>
<line x1="1600.5" y1="855" x2="1600.5" y2="864.5" stroke="#000" stroke-width="2.8"/>
<line x1="1724.75" y1="855" x2="1724.75" y2="864.5" stroke="#000" stroke-width="2.8"/>
<line x1="1849" y1="855" x2="1849" y2="864.5" stroke="#000" stroke-width="2.8"/>
<line x1="1973.25" y1="855" x2="1973.25" y2="864.5" stroke="#000" stroke-width="2.8"/>
<text x="1540.36" y="578.6" font-size="28.7">100</text>
<text x="1556.29" y="720.3" font-size="28.7">50</text>
<text x="1572.22" y="861.9" font-size="28.7">0</text>
<text x="1592.54" y="891.5" font-size="28.7">0</text>
<text x="1700.57" y="891.5" font-size="28.7">100</text>
<text x="1825.18" y="891.5" font-size="28.7">200</text>
<text x="1949.57" y="891.5" font-size="28.7">300</text>
<text x="1651.1" y="516" font-size="30" textLength="306.44" lengthAdjust="spacingAndGlyphs">REMBRANDT (glioma)</text>
<text x="1687.21" y="923.4" font-size="30" textLength="196.6" lengthAdjust="spacingAndGlyphs">Time (months)</text>
<text x="1530" y="865.63" font-size="30" textLength="308.3" lengthAdjust="spacingAndGlyphs" transform="rotate(-90 1530 865.63)">Percentage of survival</text>
<line x1="1656.25" y1="553.75" x2="1683" y2="553.75" stroke="#000" stroke-width="2.8"/>
<line x1="1669.5" y1="553.75" x2="1669.5" y2="546.75" stroke="#000" stroke-width="2.2"/>
<text x="1688.63" y="564" font-size="30" textLength="276.44" lengthAdjust="spacingAndGlyphs">HPRT1 low (n = 163)</text>
<line x1="1656.25" y1="596.25" x2="1683" y2="596.25" stroke="#ff0000" stroke-width="2.8"/>
<line x1="1669.5" y1="596.25" x2="1669.5" y2="589.25" stroke="#ff0000" stroke-width="2.2"/>
<text x="1688.63" y="607.5" font-size="30" textLength="289.05" lengthAdjust="spacingAndGlyphs">HPRT1 high (n = 164)</text>
<text x="1820.06" y="650.5" font-size="29.5" textLength="134.9" lengthAdjust="spacingAndGlyphs"><tspan font-style="italic">p</tspan> = 0.0037</text>
<path d="M1600.5,568.75H1600.9V570.5H1601.3V572.25H1601.7V574H1602.1V575.75H1602.5V577.5H1602.88V579.25H1603.25V581H1603.62V582.75H1604V584.5H1604.38V586.25H1604.75V588H1605.12V589.75H1605.5V591.5H1605.88V593.25H1606.25V595H1606.43V596.79H1606.61V598.57H1606.79V600.36H1606.96V602.14H1607.14V603.93H1607.32V605.71H1607.5V607.5H1607.68V609.29H1607.86V611.07H1608.04V612.86H1608.21V614.64H1608.39V616.43H1608.57V618.21H1608.75V620H1608.98V621.82H1609.2V623.64H1609.43V625.45H1609.66V627.27H1609.89V629.09H1610.11V630.91H1610.34V632.73H1610.57V634.55H1610.8V636.36H1611.02V638.18H1611.25V640H1611.72V641.88H1612.19V643.75H1612.66V645.62H1613.12V647.5H1613.59V649.38H1614.06V651.25H1614.53V653.12H1615V655H1615.47V656.88H1615.94V658.75H1616.41V660.62H1616.88V662.5H1617.34V664.38H1617.81V666.25H1618.28V668.12H1618.75V670H1619.22V671.88H1619.69V673.75H1620.16V675.62H1620.62V677.5H1621.09V679.38H1621.56V681.25H1622.03V683.12H1622.5V685H1622.88V686.75H1623.25V688.5H1623.62V690.25H1624V692H1624.38V693.75H1624.75V695.5H1625.12V697.25H1625.5V699H1625.88V700.75H1626.25V702.5H1626.72V704.38H1627.19V706.25H1627.66V708.12H1628.12V710H1628.59V711.88H1629.06V713.75H1629.53V715.62H1630V717.5H1630.83V719.17H1631.67V720.83H1632.5V722.5H1633.33V724.17H1634.17V725.83H1635V727.5H1636.88V729.38H1638.75V731.25H1640.62V733.12H1642.5V735H1644.38V736.25H1646.25V737.5H1648.12V738.75H1650V740H1651.25V741.67H1652.5V743.33H1653.75V745H1654.11V746.79H1654.46V748.57H1654.82V750.36H1655.18V752.14H1655.54V753.93H1655.89V755.71H1656.25V757.5H1656.79V759.29H1657.32V761.07H1657.86V762.86H1658.39V764.64H1658.93V766.43H1659.46V768.21H1660V770H1661.88V771.25H1663.75V772.5H1665.62V773.75H1667.5V775H1669.38V776.56H1671.25V778.12H1673.12V779.69H1675V781.25H1676.67V781.88H1678.33V782.5H1680V783.12H1681.67V783.75H1683.33V784.38H1685V785H1686.67V785.83H1688.33V786.67H1690V787.5H1691.67V788.33H1693.33V789.17H1695V790H1696.88V791.25H1698.75V792.5H1700.62V793.75H1702.5V795H1704.25V796.75H1706V798.5H1707.75V800.25H1709.5V802H1711.25V803.75H1743.75V807H1786.25V823.75H1886.25V855" fill="none" stroke="#000" stroke-width="2.9" stroke-linejoin="miter" stroke-linecap="square"/>
<path d="M1640,732.5v-6.5M1644,736v-6.5M1648,738.67v-6.5M1652,742.67v-6.5M1656,756.25v-6.5M1660,770v-6.5M1664,772.67v-6.5M1668,775.42v-6.5M1672,778.75v-6.5M1676,781.62v-6.5M1680,783.12v-6.5M1684,784.62v-6.5M1688,786.5v-6.5M1692,788.5v-6.5M1696,790.67v-6.5M1700,793.33v-6.5M1704,796.5v-6.5M1708,800.5v-6.5M1714,803.75v-6.5M1718,803.75v-6.5M1721,803.75v-6.5M1725,803.75v-6.5M1729,803.75v-6.5M1733,803.75v-6.5M1737,803.75v-6.5M1741,803.75v-6.5M1746,807v-6.5M1752,807v-6.5M1755,807v-6.5M1760,807v-6.5M1763,807v-6.5M1766,807v-6.5M1770,807v-6.5M1775,807v-6.5M1779,807v-6.5M1783,807v-6.5M1867,823.75v-6.5" fill="none" stroke="#000" stroke-width="2.32"/>
<path d="M1600.5,568.75H1601.25V570.62H1602V572.5H1602.75V574.38H1603.5V576.25H1604.25V578.12H1605V580H1605.27V581.79H1605.54V583.57H1605.8V585.36H1606.07V587.14H1606.34V588.93H1606.61V590.71H1606.88V592.5H1607.14V594.29H1607.41V596.07H1607.68V597.86H1607.95V599.64H1608.21V601.43H1608.48V603.21H1608.75V605H1609.02V606.79H1609.29V608.57H1609.55V610.36H1609.82V612.14H1610.09V613.93H1610.36V615.71H1610.62V617.5H1610.89V619.29H1611.16V621.07H1611.43V622.86H1611.7V624.64H1611.96V626.43H1612.23V628.21H1612.5V630H1612.72V631.76H1612.94V633.53H1613.16V635.29H1613.38V637.06H1613.6V638.82H1613.82V640.59H1614.04V642.35H1614.26V644.12H1614.49V645.88H1614.71V647.65H1614.93V649.41H1615.15V651.18H1615.37V652.94H1615.59V654.71H1615.81V656.47H1616.03V658.24H1616.25V660H1616.5V661.83H1616.75V663.67H1617V665.5H1617.25V667.33H1617.5V669.17H1617.75V671H1618V672.83H1618.25V674.67H1618.5V676.5H1618.75V678.33H1619V680.17H1619.25V682H1619.5V683.83H1619.75V685.67H1620V687.5H1620.25V689.33H1620.5V691.17H1620.75V693H1621V694.83H1621.25V696.67H1621.5V698.5H1621.75V700.33H1622V702.17H1622.25V704H1622.5V705.83H1622.75V707.67H1623V709.5H1623.25V711.33H1623.5V713.17H1623.75V715H1624.02V716.79H1624.29V718.57H1624.55V720.36H1624.82V722.14H1625.09V723.93H1625.36V725.71H1625.62V727.5H1625.89V729.29H1626.16V731.07H1626.43V732.86H1626.7V734.64H1626.96V736.43H1627.23V738.21H1627.5V740H1627.97V741.88H1628.44V743.75H1628.91V745.62H1629.38V747.5H1629.84V749.38H1630.31V751.25H1630.78V753.12H1631.25V755H1631.88V756.88H1632.5V758.75H1633.12V760.62H1633.75V762.5H1634.38V764.38H1635V766.25H1635.62V768.12H1636.25V770H1636.79V771.79H1637.32V773.57H1637.86V775.36H1638.39V777.14H1638.93V778.93H1639.46V780.71H1640V782.5H1641.88V784.38H1643.75V786.25H1645.62V788.12H1647.5V790H1649.17V790.42H1650.83V790.83H1652.5V791.25H1654.17V791.67H1655.83V792.08H1657.5V792.5H1659.38V794.38H1661.25V796.25H1663.12V798.12H1665V800H1666.25V801.67H1667.5V803.33H1668.75V805H1670V806.67H1671.25V808.33H1672.5V810H1673.75V811.67H1675V813.33H1676.25V815H1677.5V816.67H1678.75V818.33H1680V820H1680.83V821.67H1681.67V823.33H1682.5V825H1683.33V826.67H1684.17V828.33H1685V830H1686.88V830.31H1688.75V830.62H1690.62V830.94H1692.5V831.25H1694.25V832H1696V832.75H1697.75V833.5H1699.5V834.25H1701.25V835H1717.5V837H1740V840H1914.5" fill="none" stroke="#ff0000" stroke-width="2.9" stroke-linejoin="miter" stroke-linecap="square"/>
<path d="M1630,750v-6.5M1634,763.25v-6.5M1638,775.83v-6.5M1642,784.5v-6.5M1646,788.5v-6.5M1650,790.62v-6.5M1654,791.62v-6.5M1658,793v-6.5M1662,797v-6.5M1666,801.33v-6.5M1670,806.67v-6.5M1674,812v-6.5M1678,817.33v-6.5M1682,824v-6.5M1686,830.17v-6.5M1690,830.83v-6.5M1694,831.89v-6.5M1698,833.61v-6.5M1717.5,837v-6.5M1752,840v-6.5M1756,840v-6.5M1760,840v-6.5M1766,840v-6.5M1769,840v-6.5M1837,840v-6.5M1914.5,840v-6.5" fill="none" stroke="#ff0000" stroke-width="2.32"/>
<text x="0.72" y="976" font-size="42.5" textLength="27.22" lengthAdjust="spacingAndGlyphs">d</text>
<text x="470.24" y="976.3" font-size="42.5" textLength="24.45" lengthAdjust="spacingAndGlyphs">e</text>
<text x="985.5" y="976" font-size="42.5" textLength="15.61" lengthAdjust="spacingAndGlyphs">f</text>
<text x="1498.07" y="966.8" font-size="42.5" textLength="26.49" lengthAdjust="spacingAndGlyphs">g</text>
<line x1="107.5" y1="1039.1" x2="107.5" y2="1367" stroke="#000" stroke-width="2.5"/>
<line x1="96" y1="1357.5" x2="480" y2="1357.5" stroke="#000" stroke-width="3"/>
<line x1="96" y1="1070.3" x2="107.5" y2="1070.3" stroke="#000" stroke-width="2.5"/>
<line x1="96" y1="1213.5" x2="107.5" y2="1213.5" stroke="#000" stroke-width="2.5"/>
<line x1="107.9" y1="1357.5" x2="107.9" y2="1367" stroke="#000" stroke-width="2.5"/>
<line x1="182.32" y1="1357.5" x2="182.32" y2="1367" stroke="#000" stroke-width="2.5"/>
<line x1="256.74" y1="1357.5" x2="256.74" y2="1367" stroke="#000" stroke-width="2.5"/>
<line x1="331.16" y1="1357.5" x2="331.16" y2="1367" stroke="#000" stroke-width="2.5"/>
<line x1="405.58" y1="1357.5" x2="405.58" y2="1367" stroke="#000" stroke-width="2.5"/>
<line x1="480" y1="1357.5" x2="480" y2="1367" stroke="#000" stroke-width="2.5"/>
<text x="40.94" y="1063.4" font-size="27.3">100</text>
<text x="56.09" y="1215" font-size="27.3">50</text>
<text x="71.24" y="1365.2" font-size="27.3">0</text>
<text x="97.42" y="1395" font-size="27.3">0</text>
<text x="155.83" y="1395" font-size="27.3">10</text>
<text x="223.62" y="1395" font-size="27.3">20</text>
<text x="290.55" y="1395" font-size="27.3">30</text>
<text x="355.94" y="1395" font-size="27.3">40</text>
<text x="422.48" y="1395" font-size="27.3">50</text>
<text x="159.78" y="983.8" font-size="30" textLength="231.52" lengthAdjust="spacingAndGlyphs">(Recurrent GBM)</text>
<text x="182.26" y="1428.9" font-size="27.4" textLength="185.25" lengthAdjust="spacingAndGlyphs">Time (months)</text>
<text x="27.7" y="1351.16" font-size="27.5" textLength="288.56" lengthAdjust="spacingAndGlyphs" transform="rotate(-90 27.7 1351.16)">Percentage of survival</text>
<line x1="114.4" y1="1011.25" x2="141.9" y2="1011.25" stroke="#000" stroke-width="2.8"/>
<line x1="128.75" y1="1011.25" x2="128.75" y2="1004.25" stroke="#000" stroke-width="2.2"/>
<text x="148.54" y="1020.7" font-size="28.3" textLength="243.84" lengthAdjust="spacingAndGlyphs">HPRT1 low (n = 25)</text>
<line x1="114.4" y1="1053.75" x2="141.9" y2="1053.75" stroke="#ff0000" stroke-width="2.8"/>
<line x1="128.75" y1="1053.75" x2="128.75" y2="1046.75" stroke="#ff0000" stroke-width="2.2"/>
<text x="148.54" y="1064.4" font-size="28.3" textLength="256.82" lengthAdjust="spacingAndGlyphs">HPRT1 high (n = 25)</text>
<text x="323.03" y="1141.25" font-size="28.3" textLength="126.86" lengthAdjust="spacingAndGlyphs"><tspan font-style="italic">p</tspan> = 0.0002</text>
<path d="M107.5,1070H122.5V1082H132.5V1092.5H163.75V1105H172.5V1116.25H183.75V1127.5H187.5V1150.75H202V1162H207V1185H208.75V1197.5H211.25V1230H223.25V1242.5H225V1253.75H230V1265H236.25V1276.25H256.25V1300H260V1311.25H333.75V1322.5H355V1333.75H386.25V1345.5H415.75V1357" fill="none" stroke="#000" stroke-width="2.9" stroke-linejoin="miter" stroke-linecap="square"/>
<path d="M107.5,1070H117.5V1082H121.25V1093H125V1104.5H131.25V1127.5H138.75V1138.75H141.25V1162.5H144.5V1173.75H148.75V1185H156.25V1207.5H160V1218.75H165.75V1241.25H172V1252.5H174.5V1265H178V1287.5H183.75V1300H190.5V1311.25H192V1322.5H212.5V1334.5H262V1345.5H269.5V1357" fill="none" stroke="#ff0000" stroke-width="2.9" stroke-linejoin="miter" stroke-linecap="square"/>
<line x1="600" y1="1032" x2="600" y2="1362" stroke="#000" stroke-width="2.8"/>
<line x1="588.5" y1="1352.5" x2="970" y2="1352.5" stroke="#000" stroke-width="2.9"/>
<line x1="588.5" y1="1062.5" x2="600" y2="1062.5" stroke="#000" stroke-width="2.8"/>
<line x1="588.5" y1="1207.5" x2="600" y2="1207.5" stroke="#000" stroke-width="2.8"/>
<line x1="600" y1="1352.5" x2="600" y2="1362" stroke="#000" stroke-width="2.8"/>
<line x1="674" y1="1352.5" x2="674" y2="1362" stroke="#000" stroke-width="2.8"/>
<line x1="748" y1="1352.5" x2="748" y2="1362" stroke="#000" stroke-width="2.8"/>
<line x1="822" y1="1352.5" x2="822" y2="1362" stroke="#000" stroke-width="2.8"/>
<line x1="896" y1="1352.5" x2="896" y2="1362" stroke="#000" stroke-width="2.8"/>
<line x1="970" y1="1352.5" x2="970" y2="1362" stroke="#000" stroke-width="2.8"/>
<text x="534.39" y="1058.75" font-size="27.3">100</text>
<text x="549.54" y="1211" font-size="27.3">50</text>
<text x="564.69" y="1361" font-size="27.3">0</text>
<text x="592.42" y="1390" font-size="27.3">0</text>
<text x="649.58" y="1390" font-size="27.3">10</text>
<text x="717.42" y="1390" font-size="27.3">20</text>
<text x="785.05" y="1390" font-size="27.3">30</text>
<text x="850.19" y="1390" font-size="27.3">40</text>
<text x="916.99" y="1390" font-size="27.3">50</text>
<text x="669.03" y="983.8" font-size="30" textLength="231.01" lengthAdjust="spacingAndGlyphs">(Recurrent GBM)</text>
<text x="675.96" y="1423.75" font-size="27.4" textLength="185.25" lengthAdjust="spacingAndGlyphs">Time (months)</text>
<text x="522.5" y="1346.14" font-size="27.5" textLength="285.42" lengthAdjust="spacingAndGlyphs" transform="rotate(-90 522.5 1346.14)">Percentage of survival</text>
<line x1="606.25" y1="1010.75" x2="632.5" y2="1010.75" stroke="#000" stroke-width="2.8"/>
<line x1="620" y1="1010.75" x2="620" y2="1003.75" stroke="#000" stroke-width="2.2"/>
<text x="632.78" y="1021.8" font-size="28.3" textLength="358.91" lengthAdjust="spacingAndGlyphs">AMPKα pT172 low (n = 25)</text>
<line x1="606.25" y1="1053.25" x2="632.5" y2="1053.25" stroke="#ff0000" stroke-width="2.8"/>
<line x1="620" y1="1053.25" x2="620" y2="1046.25" stroke="#ff0000" stroke-width="2.2"/>
<text x="632.78" y="1062.7" font-size="28.3" textLength="371.68" lengthAdjust="spacingAndGlyphs">AMPKα pT172 high (n = 25)</text>
<text x="831.78" y="1141.25" font-size="28.3" textLength="126.86" lengthAdjust="spacingAndGlyphs"><tspan font-style="italic">p</tspan> = 0.0122</text>
<path d="M600,1062.5H612.5V1075H615V1086.25H619.5V1097.5H635V1108.75H643V1120.5H655.5V1132H668V1143.75H672V1155H675V1166.25H678.75V1178.75H681.25V1201.25H695V1212.5H702.5V1223.75H716.25V1247H730V1258.75H748.75V1282.5H751.25V1293.75H761.25V1305.5H825.75V1317H845V1328.75H877.5V1340.5H905.5V1352.5" fill="none" stroke="#000" stroke-width="2.9" stroke-linejoin="miter" stroke-linecap="square"/>
<path d="M600,1062.5H615V1073.75H623.75V1086.25H625V1108.75H632V1121.25H634.5V1132.5H637.5V1144.5H650V1167.5H653.75V1178.75H660V1201.25H665V1224.5H671.25V1236.25H682.5V1247.5H685V1258.75H700V1282.5H702.5V1293.75H704.25V1317.5H706.25V1328.75H723.75V1340.5H755V1352.5" fill="none" stroke="#ff0000" stroke-width="2.9" stroke-linejoin="miter" stroke-linecap="square"/>
<path d="M615,1062.5v-6.5" fill="none" stroke="#ff0000" stroke-width="2.32"/>
<line x1="1108.25" y1="1030" x2="1108.25" y2="1359.5" stroke="#000" stroke-width="2.8"/>
<line x1="1096.75" y1="1350" x2="1473.75" y2="1350" stroke="#000" stroke-width="2.9"/>
<line x1="1096.75" y1="1060.75" x2="1108.25" y2="1060.75" stroke="#000" stroke-width="2.8"/>
<line x1="1096.75" y1="1205.5" x2="1108.25" y2="1205.5" stroke="#000" stroke-width="2.8"/>
<line x1="1108.25" y1="1350" x2="1108.25" y2="1359.5" stroke="#000" stroke-width="2.8"/>
<line x1="1181.35" y1="1350" x2="1181.35" y2="1359.5" stroke="#000" stroke-width="2.8"/>
<line x1="1254.45" y1="1350" x2="1254.45" y2="1359.5" stroke="#000" stroke-width="2.8"/>
<line x1="1327.55" y1="1350" x2="1327.55" y2="1359.5" stroke="#000" stroke-width="2.8"/>
<line x1="1400.65" y1="1350" x2="1400.65" y2="1359.5" stroke="#000" stroke-width="2.8"/>
<line x1="1473.75" y1="1350" x2="1473.75" y2="1359.5" stroke="#000" stroke-width="2.8"/>
<text x="1041.89" y="1056.25" font-size="27.3">100</text>
<text x="1057.04" y="1208.75" font-size="27.3">50</text>
<text x="1072.19" y="1360" font-size="27.3">0</text>
<text x="1099.42" y="1388.75" font-size="27.3">0</text>
<text x="1155.83" y="1388.75" font-size="27.3">10</text>
<text x="1224.42" y="1388.75" font-size="27.3">20</text>
<text x="1291.3" y="1388.75" font-size="27.3">30</text>
<text x="1357.69" y="1388.75" font-size="27.3">40</text>
<text x="1423.74" y="1388.75" font-size="27.3">50</text>
<text x="1173.58" y="983" font-size="30" textLength="231.52" lengthAdjust="spacingAndGlyphs">(Recurrent GBM)</text>
<text x="1184.76" y="1422.5" font-size="27.4" textLength="185.25" lengthAdjust="spacingAndGlyphs">Time (months)</text>
<text x="1029.2" y="1346.16" font-size="27.5" textLength="289.57" lengthAdjust="spacingAndGlyphs" transform="rotate(-90 1029.2 1346.16)">Percentage of survival</text>
<line x1="1115" y1="1010" x2="1141.75" y2="1010" stroke="#000" stroke-width="2.8"/>
<line x1="1128" y1="1010" x2="1128" y2="1003" stroke="#000" stroke-width="2.2"/>
<text x="1148.75" y="1018.75" font-size="28.3" textLength="302.01" lengthAdjust="spacingAndGlyphs">RRM1 pT52 low (n = 25)</text>
<line x1="1115" y1="1052.5" x2="1141.75" y2="1052.5" stroke="#ff0000" stroke-width="2.8"/>
<line x1="1128" y1="1052.5" x2="1128" y2="1045.5" stroke="#ff0000" stroke-width="2.2"/>
<text x="1148.75" y="1062" font-size="28.3" textLength="313.86" lengthAdjust="spacingAndGlyphs">RRM1 pT52 high (n = 25)</text>
<text x="1336.78" y="1141.25" font-size="28.3" textLength="127.72" lengthAdjust="spacingAndGlyphs"><tspan font-style="italic">p</tspan> = 0.0075</text>
<path d="M1108.25,1060.75H1124.5V1072.5H1126V1084.5H1127V1096.25H1141.25V1107.5H1150V1118.75H1173.75V1130H1176.25V1142.5H1178.75V1153.75H1188.75V1176.25H1202.5V1188.75H1207V1200H1210V1222.5H1223.75V1245.5H1230.5V1257.5H1236.25V1268.75H1255V1292.5H1258.75V1305H1267V1316.25H1351.25V1327.5H1384.5V1338.75H1411.25V1350" fill="none" stroke="#000" stroke-width="2.9" stroke-linejoin="miter" stroke-linecap="square"/>
<path d="M1108.25,1060.75H1118.75V1072.5H1132.5V1083.75H1133.75V1106.25H1142V1131.25H1146.25V1142.5H1157V1165H1161.25V1176.25H1163.75V1188.75H1167.5V1211.25H1172.5V1222.5H1178.75V1233.75H1182V1246.25H1185V1257.5H1190V1268.75H1192V1280H1207.5V1292.5H1210V1316.25H1212.5V1327.5H1261.25V1338.75H1332V1350" fill="none" stroke="#ff0000" stroke-width="2.9" stroke-linejoin="miter" stroke-linecap="square"/>
<text x="1647.28" y="983.75" font-size="29.5" textLength="231.52" lengthAdjust="spacingAndGlyphs">(Recurrent GBM)</text>
<text x="1699.46" y="1015.9" font-size="29.9">R</text>
<text x="1720" y="1006.2" font-size="16.5" font-weight="normal">2</text>
<text x="1734.05" y="1015.9" font-size="29.9" textLength="112.36" lengthAdjust="spacingAndGlyphs">= 0.2646</text>
<text x="1701.95" y="1042.7" font-size="29.2" textLength="132.83" lengthAdjust="spacingAndGlyphs"><tspan font-style="italic">p</tspan> = 0.0001</text>
<text x="1698.25" y="1076.5" font-size="29.2" textLength="102.06" lengthAdjust="spacingAndGlyphs">(n = 50)</text>
<line x1="1610.2" y1="1034.6" x2="1610.2" y2="1351.25" stroke="#000" stroke-width="3"/>
<line x1="1596.25" y1="1351.25" x2="1926.25" y2="1351.25" stroke="#000" stroke-width="3"/>
<line x1="1596.2" y1="1036.13" x2="1610.2" y2="1036.13" stroke="#000" stroke-width="3"/>
<line x1="1596.2" y1="1114.91" x2="1610.2" y2="1114.91" stroke="#000" stroke-width="3"/>
<line x1="1596.2" y1="1193.69" x2="1610.2" y2="1193.69" stroke="#000" stroke-width="3"/>
<line x1="1596.2" y1="1272.47" x2="1610.2" y2="1272.47" stroke="#000" stroke-width="3"/>
<line x1="1649.25" y1="1351.25" x2="1649.25" y2="1362.25" stroke="#000" stroke-width="3"/>
<line x1="1728.25" y1="1351.25" x2="1728.25" y2="1362.25" stroke="#000" stroke-width="3"/>
<line x1="1807.25" y1="1351.25" x2="1807.25" y2="1362.25" stroke="#000" stroke-width="3"/>
<line x1="1886.25" y1="1351.25" x2="1886.25" y2="1362.25" stroke="#000" stroke-width="3"/>
<text x="1573.47" y="1044.83" font-size="29.2">8</text>
<text x="1573.62" y="1123.61" font-size="29.2">6</text>
<text x="1572.74" y="1202.39" font-size="29.2">4</text>
<text x="1573.76" y="1281.17" font-size="29.2">2</text>
<text x="1573.76" y="1359.95" font-size="29.2">0</text>
<text x="1641.22" y="1388.5" font-size="29.2">2</text>
<text x="1720" y="1388.5" font-size="29.2">4</text>
<text x="1799.15" y="1388.5" font-size="29.2">6</text>
<text x="1878.15" y="1388.5" font-size="29.2">8</text>
<text x="1648.84" y="1431.3" font-size="29.5" textLength="235.96" lengthAdjust="spacingAndGlyphs">HPRT1 IHC score</text>
<text x="1544.5" y="1355.92" font-size="30" textLength="336.03" lengthAdjust="spacingAndGlyphs" transform="rotate(-90 1544.5 1355.92)">AMPKα pT172 IHC score</text>
<circle cx="1649.25" cy="1193.69" r="6.6" fill="#a7a7a7"/>
<circle cx="1649.25" cy="1220.08" r="6.6" fill="#a7a7a7"/>
<circle cx="1649.25" cy="1285.47" r="6.6" fill="#a7a7a7"/>
<circle cx="1649.25" cy="1298.86" r="6.6" fill="#a7a7a7"/>
<circle cx="1662.29" cy="1206.69" r="6.6" fill="#a7a7a7"/>
<circle cx="1675.71" cy="1272.47" r="6.6" fill="#a7a7a7"/>
<circle cx="1675.71" cy="1285.47" r="6.6" fill="#a7a7a7"/>
<circle cx="1701.79" cy="1101.91" r="6.6" fill="#a7a7a7"/>
<circle cx="1701.79" cy="1220.08" r="6.6" fill="#a7a7a7"/>
<circle cx="1701.79" cy="1246.08" r="6.6" fill="#a7a7a7"/>
<circle cx="1701.79" cy="1259.47" r="6.6" fill="#a7a7a7"/>
<circle cx="1701.79" cy="1272.47" r="6.6" fill="#a7a7a7"/>
<circle cx="1701.79" cy="1285.47" r="6.6" fill="#a7a7a7"/>
<circle cx="1715.21" cy="1141.3" r="6.6" fill="#a7a7a7"/>
<circle cx="1715.21" cy="1167.3" r="6.6" fill="#a7a7a7"/>
<circle cx="1715.21" cy="1298.86" r="6.6" fill="#a7a7a7"/>
<circle cx="1728.25" cy="1180.69" r="6.6" fill="#a7a7a7"/>
<circle cx="1728.25" cy="1246.08" r="6.6" fill="#a7a7a7"/>
<circle cx="1741.29" cy="1154.3" r="6.6" fill="#a7a7a7"/>
<circle cx="1741.29" cy="1220.08" r="6.6" fill="#a7a7a7"/>
<circle cx="1754.71" cy="1101.91" r="6.6" fill="#a7a7a7"/>
<circle cx="1754.71" cy="1127.91" r="6.6" fill="#a7a7a7"/>
<circle cx="1754.71" cy="1180.69" r="6.6" fill="#a7a7a7"/>
<circle cx="1754.71" cy="1193.69" r="6.6" fill="#a7a7a7"/>
<circle cx="1754.71" cy="1220.08" r="6.6" fill="#a7a7a7"/>
<circle cx="1754.71" cy="1233.08" r="6.6" fill="#a7a7a7"/>
<circle cx="1754.71" cy="1272.47" r="6.6" fill="#a7a7a7"/>
<circle cx="1767.75" cy="1206.69" r="6.6" fill="#a7a7a7"/>
<circle cx="1780.79" cy="1114.91" r="6.6" fill="#a7a7a7"/>
<circle cx="1780.79" cy="1206.69" r="6.6" fill="#a7a7a7"/>
<circle cx="1780.79" cy="1220.08" r="6.6" fill="#a7a7a7"/>
<circle cx="1780.79" cy="1285.47" r="6.6" fill="#a7a7a7"/>
<circle cx="1794.21" cy="1141.3" r="6.6" fill="#a7a7a7"/>
<circle cx="1794.21" cy="1180.69" r="6.6" fill="#a7a7a7"/>
<circle cx="1794.21" cy="1206.69" r="6.6" fill="#a7a7a7"/>
<circle cx="1820.29" cy="1101.91" r="6.6" fill="#a7a7a7"/>
<circle cx="1820.29" cy="1141.3" r="6.6" fill="#a7a7a7"/>
<circle cx="1820.29" cy="1246.08" r="6.6" fill="#a7a7a7"/>
<circle cx="1833.71" cy="1127.91" r="6.6" fill="#a7a7a7"/>
<circle cx="1833.71" cy="1141.3" r="6.6" fill="#a7a7a7"/>
<circle cx="1833.71" cy="1167.3" r="6.6" fill="#a7a7a7"/>
<circle cx="1846.75" cy="1101.91" r="6.6" fill="#a7a7a7"/>
<circle cx="1859.79" cy="1259.47" r="6.6" fill="#a7a7a7"/>
<circle cx="1873.21" cy="1088.52" r="6.6" fill="#a7a7a7"/>
<line x1="1649.25" y1="1253.56" x2="1872.82" y2="1140.51" stroke="#ff0000" stroke-width="2.6"/>
<text x="-0.1" y="1489" font-size="42.5" textLength="26.22" lengthAdjust="spacingAndGlyphs">h</text>
<text x="479.75" y="1489.5" font-size="42.5" textLength="11.31" lengthAdjust="spacingAndGlyphs">i</text>
<text x="168.05" y="1496.25" font-size="29.5" textLength="231.27" lengthAdjust="spacingAndGlyphs">(Recurrent GBM)</text>
<text x="207.56" y="1527.5" font-size="29.9">R</text>
<text x="228.1" y="1517.8" font-size="16.5" font-weight="normal">2</text>
<text x="242.15" y="1527.5" font-size="29.9" textLength="128.76" lengthAdjust="spacingAndGlyphs">= 0.09148</text>
<text x="210.06" y="1555" font-size="29.2" textLength="135.37" lengthAdjust="spacingAndGlyphs"><tspan font-style="italic">p</tspan> = 0.0328</text>
<text x="206.54" y="1586.25" font-size="29.2">(n = 50)</text>
<line x1="107.5" y1="1558" x2="107.5" y2="1876.25" stroke="#000" stroke-width="3"/>
<line x1="95.5" y1="1876.25" x2="423" y2="1876.25" stroke="#000" stroke-width="3"/>
<line x1="93.5" y1="1559.53" x2="107.5" y2="1559.53" stroke="#000" stroke-width="3"/>
<line x1="93.5" y1="1638.71" x2="107.5" y2="1638.71" stroke="#000" stroke-width="3"/>
<line x1="93.5" y1="1717.89" x2="107.5" y2="1717.89" stroke="#000" stroke-width="3"/>
<line x1="93.5" y1="1797.07" x2="107.5" y2="1797.07" stroke="#000" stroke-width="3"/>
<line x1="146.25" y1="1876.25" x2="146.25" y2="1887.25" stroke="#000" stroke-width="3"/>
<line x1="225.45" y1="1876.25" x2="225.45" y2="1887.25" stroke="#000" stroke-width="3"/>
<line x1="304.65" y1="1876.25" x2="304.65" y2="1887.25" stroke="#000" stroke-width="3"/>
<line x1="383.85" y1="1876.25" x2="383.85" y2="1887.25" stroke="#000" stroke-width="3"/>
<text x="70.92" y="1568.23" font-size="29.2">8</text>
<text x="71.07" y="1647.41" font-size="29.2">6</text>
<text x="70.19" y="1726.59" font-size="29.2">4</text>
<text x="71.21" y="1805.77" font-size="29.2">2</text>
<text x="71.21" y="1884.95" font-size="29.2">0</text>
<text x="138.22" y="1912.5" font-size="29.2">2</text>
<text x="217.2" y="1912.5" font-size="29.2">4</text>
<text x="296.55" y="1912.5" font-size="29.2">6</text>
<text x="375.75" y="1912.5" font-size="29.2">8</text>
<text x="146.23" y="1956.3" font-size="29.5" textLength="236.87" lengthAdjust="spacingAndGlyphs">HPRT1 IHC score</text>
<text x="49.5" y="1863.12" font-size="30" textLength="299.18" lengthAdjust="spacingAndGlyphs" transform="rotate(-90 49.5 1863.12)">RRM1 pT52 IHC score</text>
<circle cx="146.25" cy="1744.42" r="6.7" fill="#a7a7a7"/>
<circle cx="146.25" cy="1757.48" r="6.7" fill="#a7a7a7"/>
<circle cx="146.25" cy="1770.54" r="6.7" fill="#a7a7a7"/>
<circle cx="146.25" cy="1797.07" r="6.7" fill="#a7a7a7"/>
<circle cx="146.25" cy="1823.6" r="6.7" fill="#a7a7a7"/>
<circle cx="146.25" cy="1836.66" r="6.7" fill="#a7a7a7"/>
<circle cx="159.32" cy="1770.54" r="6.7" fill="#a7a7a7"/>
<circle cx="172.78" cy="1744.42" r="6.7" fill="#a7a7a7"/>
<circle cx="172.78" cy="1784.01" r="6.7" fill="#a7a7a7"/>
<circle cx="198.92" cy="1691.36" r="6.7" fill="#a7a7a7"/>
<circle cx="198.92" cy="1730.95" r="6.7" fill="#a7a7a7"/>
<circle cx="198.92" cy="1770.54" r="6.7" fill="#a7a7a7"/>
<circle cx="198.92" cy="1784.01" r="6.7" fill="#a7a7a7"/>
<circle cx="198.92" cy="1797.07" r="6.7" fill="#a7a7a7"/>
<circle cx="198.92" cy="1823.6" r="6.7" fill="#a7a7a7"/>
<circle cx="212.38" cy="1651.77" r="6.7" fill="#a7a7a7"/>
<circle cx="212.38" cy="1665.24" r="6.7" fill="#a7a7a7"/>
<circle cx="212.38" cy="1797.07" r="6.7" fill="#a7a7a7"/>
<circle cx="225.45" cy="1638.71" r="6.7" fill="#a7a7a7"/>
<circle cx="225.45" cy="1651.77" r="6.7" fill="#a7a7a7"/>
<circle cx="225.45" cy="1744.42" r="6.7" fill="#a7a7a7"/>
<circle cx="238.52" cy="1612.18" r="6.7" fill="#a7a7a7"/>
<circle cx="238.52" cy="1678.3" r="6.7" fill="#a7a7a7"/>
<circle cx="251.98" cy="1625.65" r="6.7" fill="#a7a7a7"/>
<circle cx="251.98" cy="1638.71" r="6.7" fill="#a7a7a7"/>
<circle cx="251.98" cy="1651.77" r="6.7" fill="#a7a7a7"/>
<circle cx="251.98" cy="1744.42" r="6.7" fill="#a7a7a7"/>
<circle cx="251.98" cy="1757.48" r="6.7" fill="#a7a7a7"/>
<circle cx="251.98" cy="1836.66" r="6.7" fill="#a7a7a7"/>
<circle cx="265.05" cy="1797.07" r="6.7" fill="#a7a7a7"/>
<circle cx="278.12" cy="1704.83" r="6.7" fill="#a7a7a7"/>
<circle cx="278.12" cy="1717.89" r="6.7" fill="#a7a7a7"/>
<circle cx="278.12" cy="1784.01" r="6.7" fill="#a7a7a7"/>
<circle cx="278.12" cy="1823.6" r="6.7" fill="#a7a7a7"/>
<circle cx="291.58" cy="1678.3" r="6.7" fill="#a7a7a7"/>
<circle cx="291.58" cy="1691.36" r="6.7" fill="#a7a7a7"/>
<circle cx="291.58" cy="1717.89" r="6.7" fill="#a7a7a7"/>
<circle cx="317.72" cy="1678.3" r="6.7" fill="#a7a7a7"/>
<circle cx="317.72" cy="1691.36" r="6.7" fill="#a7a7a7"/>
<circle cx="317.72" cy="1744.42" r="6.7" fill="#a7a7a7"/>
<circle cx="331.18" cy="1599.12" r="6.7" fill="#a7a7a7"/>
<circle cx="331.18" cy="1651.77" r="6.7" fill="#a7a7a7"/>
<circle cx="331.18" cy="1691.36" r="6.7" fill="#a7a7a7"/>
<circle cx="331.18" cy="1730.95" r="6.7" fill="#a7a7a7"/>
<circle cx="344.25" cy="1651.77" r="6.7" fill="#a7a7a7"/>
<circle cx="357.32" cy="1823.6" r="6.7" fill="#a7a7a7"/>
<circle cx="370.78" cy="1784.01" r="6.7" fill="#a7a7a7"/>
<line x1="152.98" y1="1758.67" x2="369.2" y2="1689.39" stroke="#ff0000" stroke-width="2.6"/>
<text x="653.56" y="1496.25" font-size="29.5" textLength="230.76" lengthAdjust="spacingAndGlyphs">(Recurrent GBM)</text>
<text x="700.56" y="1528.75" font-size="29.9">R</text>
<text x="721.1" y="1519.05" font-size="16.5" font-weight="normal">2</text>
<text x="735.16" y="1528.75" font-size="29.9" textLength="111.96" lengthAdjust="spacingAndGlyphs">= 0.2458</text>
<text x="702.56" y="1553.75" font-size="29.2" textLength="134.76" lengthAdjust="spacingAndGlyphs"><tspan font-style="italic">p</tspan> = 0.0003</text>
<text x="699.79" y="1585" font-size="29.2">(n = 50)</text>
<line x1="598.25" y1="1559.75" x2="598.25" y2="1877.5" stroke="#000" stroke-width="3"/>
<line x1="585.5" y1="1877.5" x2="913" y2="1877.5" stroke="#000" stroke-width="3"/>
<line x1="584.25" y1="1561.26" x2="598.25" y2="1561.26" stroke="#000" stroke-width="3"/>
<line x1="584.25" y1="1640.32" x2="598.25" y2="1640.32" stroke="#000" stroke-width="3"/>
<line x1="584.25" y1="1719.38" x2="598.25" y2="1719.38" stroke="#000" stroke-width="3"/>
<line x1="584.25" y1="1798.44" x2="598.25" y2="1798.44" stroke="#000" stroke-width="3"/>
<line x1="597.5" y1="1877.5" x2="597.5" y2="1888.5" stroke="#000" stroke-width="3"/>
<line x1="676.38" y1="1877.5" x2="676.38" y2="1888.5" stroke="#000" stroke-width="3"/>
<line x1="755.26" y1="1877.5" x2="755.26" y2="1888.5" stroke="#000" stroke-width="3"/>
<line x1="834.14" y1="1877.5" x2="834.14" y2="1888.5" stroke="#000" stroke-width="3"/>
<line x1="913.02" y1="1877.5" x2="913.02" y2="1888.5" stroke="#000" stroke-width="3"/>
<text x="560.92" y="1569.96" font-size="29.2">8</text>
<text x="561.07" y="1649.02" font-size="29.2">6</text>
<text x="560.19" y="1728.08" font-size="29.2">4</text>
<text x="561.21" y="1807.14" font-size="29.2">2</text>
<text x="561.21" y="1886.2" font-size="29.2">0</text>
<text x="589.4" y="1917.5" font-size="29.2">0</text>
<text x="668.35" y="1917.5" font-size="29.2">2</text>
<text x="747.01" y="1917.5" font-size="29.2">4</text>
<text x="826.04" y="1917.5" font-size="29.2">6</text>
<text x="904.92" y="1917.5" font-size="29.2">8</text>
<text x="585.88" y="1957.7" font-size="29.5" textLength="335.43" lengthAdjust="spacingAndGlyphs">AMPKα pT172 IHC score</text>
<text x="537.5" y="1864.36" font-size="30" textLength="297.92" lengthAdjust="spacingAndGlyphs" transform="rotate(-90 537.5 1864.36)">RRM1 pT52 IHC score</text>
<circle cx="649.96" cy="1798.44" r="6.7" fill="#a7a7a7"/>
<circle cx="649.96" cy="1824.93" r="6.7" fill="#a7a7a7"/>
<circle cx="663.36" cy="1692.89" r="6.7" fill="#a7a7a7"/>
<circle cx="663.36" cy="1771.95" r="6.7" fill="#a7a7a7"/>
<circle cx="663.36" cy="1785.4" r="6.7" fill="#a7a7a7"/>
<circle cx="663.36" cy="1798.44" r="6.7" fill="#a7a7a7"/>
<circle cx="663.36" cy="1824.93" r="6.7" fill="#a7a7a7"/>
<circle cx="676.38" cy="1745.87" r="6.7" fill="#a7a7a7"/>
<circle cx="676.38" cy="1758.91" r="6.7" fill="#a7a7a7"/>
<circle cx="676.38" cy="1824.93" r="6.7" fill="#a7a7a7"/>
<circle cx="689.4" cy="1732.42" r="6.7" fill="#a7a7a7"/>
<circle cx="689.4" cy="1824.93" r="6.7" fill="#a7a7a7"/>
<circle cx="702.8" cy="1653.36" r="6.7" fill="#a7a7a7"/>
<circle cx="702.8" cy="1679.85" r="6.7" fill="#a7a7a7"/>
<circle cx="702.8" cy="1745.87" r="6.7" fill="#a7a7a7"/>
<circle cx="702.8" cy="1785.4" r="6.7" fill="#a7a7a7"/>
<circle cx="715.82" cy="1837.97" r="6.7" fill="#a7a7a7"/>
<circle cx="728.84" cy="1613.83" r="6.7" fill="#a7a7a7"/>
<circle cx="728.84" cy="1692.89" r="6.7" fill="#a7a7a7"/>
<circle cx="728.84" cy="1745.87" r="6.7" fill="#a7a7a7"/>
<circle cx="728.84" cy="1785.4" r="6.7" fill="#a7a7a7"/>
<circle cx="728.84" cy="1798.44" r="6.7" fill="#a7a7a7"/>
<circle cx="728.84" cy="1837.97" r="6.7" fill="#a7a7a7"/>
<circle cx="742.24" cy="1692.89" r="6.7" fill="#a7a7a7"/>
<circle cx="742.24" cy="1706.34" r="6.7" fill="#a7a7a7"/>
<circle cx="742.24" cy="1771.95" r="6.7" fill="#a7a7a7"/>
<circle cx="742.24" cy="1798.44" r="6.7" fill="#a7a7a7"/>
<circle cx="755.26" cy="1653.36" r="6.7" fill="#a7a7a7"/>
<circle cx="755.26" cy="1758.91" r="6.7" fill="#a7a7a7"/>
<circle cx="768.28" cy="1627.28" r="6.7" fill="#a7a7a7"/>
<circle cx="768.28" cy="1640.32" r="6.7" fill="#a7a7a7"/>
<circle cx="768.28" cy="1679.85" r="6.7" fill="#a7a7a7"/>
<circle cx="781.68" cy="1666.81" r="6.7" fill="#a7a7a7"/>
<circle cx="781.68" cy="1692.89" r="6.7" fill="#a7a7a7"/>
<circle cx="794.7" cy="1679.85" r="6.7" fill="#a7a7a7"/>
<circle cx="807.72" cy="1653.36" r="6.7" fill="#a7a7a7"/>
<circle cx="807.72" cy="1692.89" r="6.7" fill="#a7a7a7"/>
<circle cx="807.72" cy="1719.38" r="6.7" fill="#a7a7a7"/>
<circle cx="821.12" cy="1600.79" r="6.7" fill="#a7a7a7"/>
<circle cx="821.12" cy="1653.36" r="6.7" fill="#a7a7a7"/>
<circle cx="821.12" cy="1732.42" r="6.7" fill="#a7a7a7"/>
<circle cx="834.14" cy="1719.38" r="6.7" fill="#a7a7a7"/>
<circle cx="847.16" cy="1640.32" r="6.7" fill="#a7a7a7"/>
<circle cx="847.16" cy="1653.36" r="6.7" fill="#a7a7a7"/>
<circle cx="847.16" cy="1745.87" r="6.7" fill="#a7a7a7"/>
<circle cx="847.16" cy="1771.95" r="6.7" fill="#a7a7a7"/>
<circle cx="860.56" cy="1785.4" r="6.7" fill="#a7a7a7"/>
<line x1="649.96" y1="1782.63" x2="860.17" y2="1670.76" stroke="#ff0000" stroke-width="2.6"/>
</svg>
</body></html>
